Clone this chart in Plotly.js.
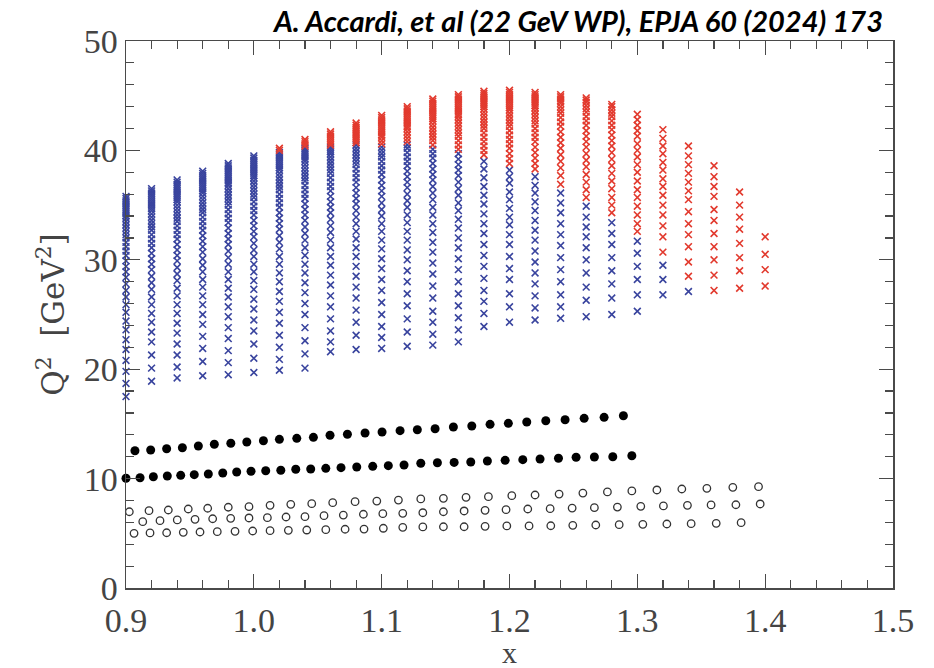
<!DOCTYPE html>
<html>
<head>
<meta charset="utf-8">
<script src="https://cdn.plot.ly/plotly-3.0.1.min.js"></script>
<style>html,body{margin:0;padding:0;background:#fff;}#chart{width:934px;height:668px;}</style>
</head>
<body>
<div id="chart"></div>
<script>
// x positions of the cross columns
const colX = [0.90,0.92,0.94,0.96,0.98,1.00,1.02,1.04,1.06,1.08,1.10,1.12,1.14,1.16,1.18,1.20,1.22,1.24,1.26,1.28,1.30,1.32,1.34,1.36,1.38,1.40];

// Q^2 values of the crosses in each column
const colQ2 = [
 [35.8,35.6,35.4,35.2,35.0,34.8,34.6,34.4,34.2,34.0,33.8,33.5,33.2,32.9,32.6,32.3,32.0,31.6,31.2,30.8,30.4,29.9,29.4,28.9,28.4,27.8,27.2,26.6,25.9,25.2,24.4,23.6,22.7,21.8,20.8,19.8,18.7,17.5],
 [36.5,36.3,36.1,35.9,35.7,35.5,35.3,35.1,34.9,34.7,34.5,34.2,33.9,33.6,33.3,33.0,32.7,32.3,31.9,31.5,31.1,30.6,30.1,29.6,29.1,28.5,27.9,27.3,26.6,25.9,25.1,24.3,23.4,22.5,21.3,20.1,18.9],
 [37.3,37.1,36.9,36.7,36.5,36.3,36.1,35.9,35.7,35.5,35.3,35.0,34.7,34.4,34.1,33.8,33.5,33.1,32.7,32.3,31.9,31.4,30.9,30.4,29.9,29.3,28.7,28.1,27.4,26.7,25.9,25.1,24.2,23.3,22.3,21.3,20.2,19.2],
 [38.1,37.9,37.7,37.5,37.3,37.1,36.9,36.7,36.5,36.3,36.1,35.8,35.5,35.2,34.9,34.6,34.3,33.9,33.5,33.1,32.7,32.2,31.7,31.2,30.7,30.1,29.5,28.9,28.2,27.5,26.7,25.9,25.0,24.1,23.0,21.9,20.7,19.4],
 [38.8,38.6,38.4,38.2,38.0,37.8,37.6,37.4,37.2,37.0,36.8,36.5,36.2,35.9,35.6,35.3,35.0,34.6,34.2,33.8,33.4,32.9,32.4,31.9,31.4,30.8,30.2,29.6,28.9,28.2,27.4,26.6,25.7,24.8,23.8,22.8,21.7,20.6,19.5],
 [39.5,39.3,39.1,38.9,38.7,38.5,38.3,38.1,37.9,37.7,37.5,37.2,36.9,36.6,36.3,36.0,35.7,35.3,34.9,34.5,34.1,33.6,33.1,32.6,32.1,31.5,30.9,30.3,29.6,28.9,28.1,27.3,26.4,25.5,24.5,23.5,22.3,21.0,19.7],
 [40.2,40.0,39.8,39.6,39.4,39.2,39.0,38.8,38.6,38.4,38.2,37.9,37.6,37.3,37.0,36.7,36.4,36.0,35.6,35.2,34.8,34.3,33.8,33.3,32.8,32.2,31.6,31.0,30.3,29.6,28.8,28.0,27.1,26.2,25.2,24.2,23.1,22.0,20.9,19.9],
 [41.0,40.8,40.6,40.4,40.2,40.0,39.8,39.6,39.4,39.2,39.0,38.7,38.4,38.1,37.8,37.5,37.2,36.8,36.4,36.0,35.6,35.1,34.6,34.1,33.6,33.0,32.4,31.8,31.1,30.4,29.6,28.8,27.9,27.0,26.0,25.0,23.8,22.6,21.4,20.1],
 [41.7,41.5,41.3,41.1,40.9,40.7,40.5,40.3,40.1,39.9,39.7,39.4,39.1,38.8,38.5,38.2,37.9,37.5,37.1,36.7,36.3,35.8,35.3,34.8,34.3,33.7,33.1,32.5,31.8,31.1,30.3,29.5,28.6,27.7,26.7,25.7,24.6,23.5,22.5,21.6],
 [42.5,42.3,42.1,41.9,41.7,41.5,41.3,41.1,40.9,40.7,40.5,40.2,39.9,39.6,39.3,39.0,38.7,38.3,37.9,37.5,37.1,36.6,36.1,35.6,35.1,34.5,33.9,33.3,32.6,31.9,31.1,30.3,29.4,28.5,27.5,26.5,25.4,24.3,23.1,21.8],
 [43.2,43.0,42.8,42.6,42.4,42.2,42.0,41.8,41.6,41.4,41.2,40.9,40.6,40.3,40.0,39.7,39.4,39.0,38.6,38.2,37.8,37.3,36.8,36.3,35.8,35.2,34.6,34.0,33.3,32.6,31.8,31.0,30.1,29.2,28.2,27.2,26.1,25.0,23.9,22.9,21.9],
 [44.0,43.8,43.6,43.4,43.2,43.0,42.8,42.6,42.4,42.2,42.0,41.7,41.4,41.1,40.8,40.5,40.2,39.8,39.4,39.0,38.6,38.1,37.6,37.1,36.6,36.0,35.4,34.8,34.1,33.4,32.6,31.8,30.9,30.0,29.0,28.0,26.9,25.8,24.6,23.4,22.1],
 [44.7,44.5,44.3,44.1,43.9,43.7,43.5,43.3,43.1,42.9,42.7,42.4,42.1,41.8,41.5,41.2,40.9,40.5,40.1,39.7,39.3,38.8,38.3,37.8,37.3,36.7,36.1,35.5,34.8,34.1,33.3,32.5,31.6,30.7,29.7,28.7,27.6,26.5,25.3,24.3,23.2,22.2],
 [45.1,44.9,44.7,44.5,44.3,44.1,43.9,43.7,43.5,43.3,43.1,42.8,42.5,42.2,41.9,41.6,41.3,40.9,40.5,40.1,39.7,39.2,38.7,38.2,37.7,37.1,36.5,35.9,35.2,34.5,33.7,32.9,32.0,31.1,30.1,29.1,28.0,26.9,25.8,24.7,23.6,22.5],
 [45.4,45.2,45.0,44.8,44.6,44.4,44.2,44.0,43.8,43.5,43.2,42.9,42.6,42.3,42.0,41.6,41.2,40.8,40.4,40.0,39.6,39.0,38.3,37.5,36.7,35.9,35.1,34.2,33.3,32.4,31.4,30.4,29.4,28.3,27.2,26.2,25.1,23.9],
 [45.5,45.3,45.1,44.9,44.7,44.5,44.3,44.1,43.9,43.7,43.4,43.1,42.8,42.5,42.2,41.8,41.4,41.0,40.6,40.2,39.7,39.25,38.8,38.2,37.6,37.0,36.2,35.5,34.7,33.9,33.2,32.3,31.4,30.3,29.2,28.2,26.9,25.7,24.3],
 [45.3,45.1,44.9,44.7,44.5,44.3,44.1,43.9,43.6,43.3,43.0,42.7,42.4,42.0,41.6,41.2,40.8,40.3,39.8,39.3,38.8,38.3,37.6,36.8,36.1,35.3,34.5,33.6,32.7,31.8,30.8,29.8,28.8,27.8,26.7,25.6,24.5],
 [45.1,44.9,44.7,44.5,44.3,44.0,43.7,43.4,43.0,42.6,42.2,41.7,41.2,40.7,40.2,39.6,39.0,38.4,37.7,36.9,36.1,35.2,34.3,33.3,32.3,31.3,30.2,29.1,28.0,26.8,25.7,24.65],
 [44.8,44.6,44.4,44.1,43.8,43.5,43.1,42.7,42.3,41.8,41.3,40.8,40.3,39.7,39.1,38.5,37.8,37.1,36.4,35.7,34.9,33.9,33.0,32.1,31.1,30.0,28.8,27.5,26.3,24.8],
 [44.2,44.0,43.7,43.4,43.1,42.7,42.3,41.9,41.4,40.9,40.4,39.8,39.2,38.6,37.9,37.2,36.5,35.7,35.0,34.3,33.4,32.4,31.4,30.2,29.0,27.8,26.5,25.0],
 [43.3,42.8,42.3,41.8,41.3,40.6,40.0,39.4,38.7,38.0,37.2,36.4,35.7,34.9,34.1,33.3,32.6,31.7,30.6,29.4,28.2,26.8,25.3],
 [41.9,41.1,40.4,39.7,38.9,38.2,37.4,36.7,35.9,35.0,34.1,33.1,32.1,30.7,29.5,28.2,26.8],
 [40.4,39.5,38.7,37.9,37.1,36.3,35.5,34.4,33.3,32.3,31.2,29.8,28.5,27.1],
 [38.6,37.6,36.7,35.8,34.6,33.6,32.4,31.2,30.0,28.6,27.2],
 [36.2,35.0,33.9,32.8,31.5,30.2,29.0,27.4],
 [32.1,30.5,29.1,27.6]
];

// crosses at or above this Q^2 are red, below are blue
const redAbove = [99,99,99,99,99,99,39.95,40.3,40.45,40.6,40.6,40.6,40.3,40.0,39.3,38.5,38.0,36.5,35.3,33.9,32.2,30.0,27.8,0,0,0];

// filled dots, upper row
const dotUpperX = [0.9070,0.9193,0.9318,0.9441,0.9566,0.9691,0.9820,0.9945,1.0075,1.0200,1.0336,1.0466,1.0596,1.0732,1.0870,1.1003,1.1144,1.1279,1.1418,1.1561,1.1705,1.1848,1.1991,1.2135,1.2284,1.2435,1.2584,1.2740,1.2891];
const dotUpperQ2 = [12.55,12.61,12.73,12.82,12.98,13.14,13.23,13.35,13.46,13.59,13.68,13.77,13.96,14.05,14.17,14.26,14.38,14.47,14.56,14.72,14.81,14.96,15.05,15.17,15.29,15.38,15.51,15.60,15.75];

// filled dots, lower row
const dotLowerX = [0.9000,0.9110,0.9214,0.9323,0.9428,0.9534,0.9644,0.9757,0.9866,0.9978,1.0093,1.0211,1.0328,1.0445,1.0563,1.0682,1.0805,1.0930,1.1052,1.1175,1.1306,1.1436,1.1567,1.1697,1.1827,1.1966,1.2104,1.2239,1.2383,1.2521,1.2664,1.2808,1.2957];
const dotLowerQ2 = [10.03,10.08,10.17,10.24,10.30,10.36,10.42,10.51,10.60,10.67,10.72,10.76,10.85,10.88,10.94,11.00,11.06,11.12,11.18,11.24,11.40,11.45,11.48,11.52,11.61,11.67,11.73,11.79,11.86,11.95,11.97,12.00,12.09];

// open circles, top row
const circTopX = [0.9026,0.9180,0.9331,0.9487,0.9639,0.9800,0.9962,1.0127,1.0289,1.0453,1.0617,1.0792,1.0962,1.1131,1.1306,1.1483,1.1660,1.1835,1.2018,1.2200,1.2388,1.2574,1.2766,1.2957,1.3153,1.3348,1.3544,1.3747,1.3948];
const circTopQ2 = [6.97,7.07,7.13,7.22,7.29,7.38,7.43,7.56,7.65,7.71,7.80,7.89,7.95,8.04,8.14,8.20,8.29,8.35,8.44,8.50,8.59,8.68,8.78,8.87,8.96,9.05,9.11,9.20,9.26];

// open circles, middle row
const circMidX = [0.8998,0.9131,0.9266,0.9401,0.9540,0.9678,0.9819,0.9962,1.0106,1.0252,1.0400,1.0549,1.0700,1.0857,1.1009,1.1165,1.1322,1.1483,1.1645,1.1809,1.1973,1.2143,1.2318,1.2490,1.2664,1.2844,1.3027,1.3204,1.3392,1.3577,1.3771,1.3961];
const circMidQ2 = [6.01,6.06,6.15,6.22,6.28,6.33,6.37,6.40,6.43,6.49,6.52,6.61,6.67,6.74,6.79,6.83,6.88,6.97,7.04,7.10,7.16,7.22,7.25,7.31,7.34,7.40,7.47,7.50,7.56,7.59,7.61,7.68];

// open circles, bottom row
const circLowX = [0.9063,0.9188,0.9318,0.9448,0.9579,0.9714,0.9853,0.9991,1.0127,1.0270,1.0414,1.0563,1.0714,1.0862,1.1013,1.1165,1.1322,1.1483,1.1645,1.1809,1.1979,1.2153,1.2323,1.2495,1.2675,1.2858,1.3043,1.3231,1.3421,1.3617,1.3812];
const circLowQ2 = [5.00,5.03,5.05,5.09,5.12,5.15,5.18,5.21,5.24,5.27,5.30,5.33,5.37,5.39,5.46,5.55,5.58,5.60,5.60,5.64,5.67,5.67,5.69,5.73,5.76,5.79,5.82,5.85,5.88,5.91,5.97];

const xTickVals = [0.9,1.0,1.1,1.2,1.3,1.4,1.5];
const xTickText = ['0.9','1.0','1.1','1.2','1.3','1.4','1.5'];

// split crosses into blue and red sets
const blueX = [], blueY = [], redX = [], redY = [];
colQ2.forEach((arr, i) => {
  arr.forEach(q => {
    if (q >= redAbove[i]) { redX.push(colX[i]); redY.push(q); }
    else { blueX.push(colX[i]); blueY.push(q); }
  });
});

const BLUE = '#39449e';
const RED = '#e23a2e';
const AX = '#4a4a4a';
const serif = 'Liberation Serif, Times New Roman, serif';

const traces = [
  {type:'scatter', mode:'markers', x:blueX, y:blueY, cliponaxis:false, hoverinfo:'skip',
   marker:{symbol:'x-thin', size:6.8, color:BLUE, line:{color:BLUE, width:1.6}}},
  {type:'scatter', mode:'markers', x:redX, y:redY, cliponaxis:false, hoverinfo:'skip',
   marker:{symbol:'x-thin', size:6.8, color:RED, line:{color:RED, width:1.6}}},
  {type:'scatter', mode:'markers', x:dotUpperX, y:dotUpperQ2, cliponaxis:false, hoverinfo:'skip',
   marker:{symbol:'circle', size:9, color:'#000'}},
  {type:'scatter', mode:'markers', x:dotLowerX, y:dotLowerQ2, cliponaxis:false, hoverinfo:'skip',
   marker:{symbol:'circle', size:9, color:'#000'}},
  {type:'scatter', mode:'markers', x:circTopX, y:circTopQ2, cliponaxis:false, hoverinfo:'skip',
   marker:{symbol:'circle-open', size:7.5, color:'#333', line:{color:'#333', width:1.3}}},
  {type:'scatter', mode:'markers', x:circMidX, y:circMidQ2, cliponaxis:false, hoverinfo:'skip',
   marker:{symbol:'circle-open', size:7.5, color:'#333', line:{color:'#333', width:1.3}}},
  {type:'scatter', mode:'markers', x:circLowX, y:circLowQ2, cliponaxis:false, hoverinfo:'skip',
   marker:{symbol:'circle-open', size:7.5, color:'#333', line:{color:'#333', width:1.3}}}
];

const layout = {
  width:934, height:668,
  margin:{l:126, r:41, t:41, b:80, pad:0},
  paper_bgcolor:'#fff', plot_bgcolor:'#fff',
  showlegend:false,
  xaxis:{
    range:[0.9,1.5], tickmode:'array', tickvals:xTickVals, ticktext:xTickText,
    ticks:'inside', ticklen:14, tickwidth:1.3, tickcolor:AX,
    showline:true, linecolor:AX, linewidth:1.5, mirror:'allticks',
    showgrid:false, zeroline:false, ticklabelstandoff:2,
    minor:{dtick:0.02, tick0:0.9, ticks:'inside', ticklen:8, tickwidth:1.2, tickcolor:AX, showgrid:false},
    tickfont:{family:serif, size:34, color:'#444'}
  },
  yaxis:{
    range:[0,50], dtick:10, tick0:0,
    ticks:'inside', ticklen:14, tickwidth:1.3, tickcolor:AX,
    showline:true, linecolor:AX, linewidth:1.5, mirror:'allticks',
    showgrid:false, zeroline:false,
    minor:{dtick:2, tick0:0, ticks:'inside', ticklen:8, tickwidth:1.2, tickcolor:AX, showgrid:false},
    tickfont:{family:serif, size:34, color:'#444'},
    title:{text:'Q<sup>2</sup>&nbsp;&nbsp;[GeV<sup>2</sup>]', font:{family:'DejaVu Serif, serif', size:31, color:'#444'}, standoff:10}
  },
  annotations:[{
    text:'<b><i>A. Accardi, et al (22 GeV WP), EPJA 60 (2024) 173</i></b>',
    xref:'paper', yref:'paper', x:0.9896, y:1.037, xanchor:'right', yanchor:'middle',
    showarrow:false, font:{family:'Lato, Open Sans, sans-serif', size:29, color:'#000'}
  },{
    text:'x',
    xref:'paper', yref:'paper', x:0.5, y:-0.118, xanchor:'center', yanchor:'middle',
    showarrow:false, font:{family:serif, size:30, color:'#444'}
  }]
};

Plotly.newPlot('chart', traces, layout, {displayModeBar:false, staticPlot:true});
</script>
</body>
</html>
